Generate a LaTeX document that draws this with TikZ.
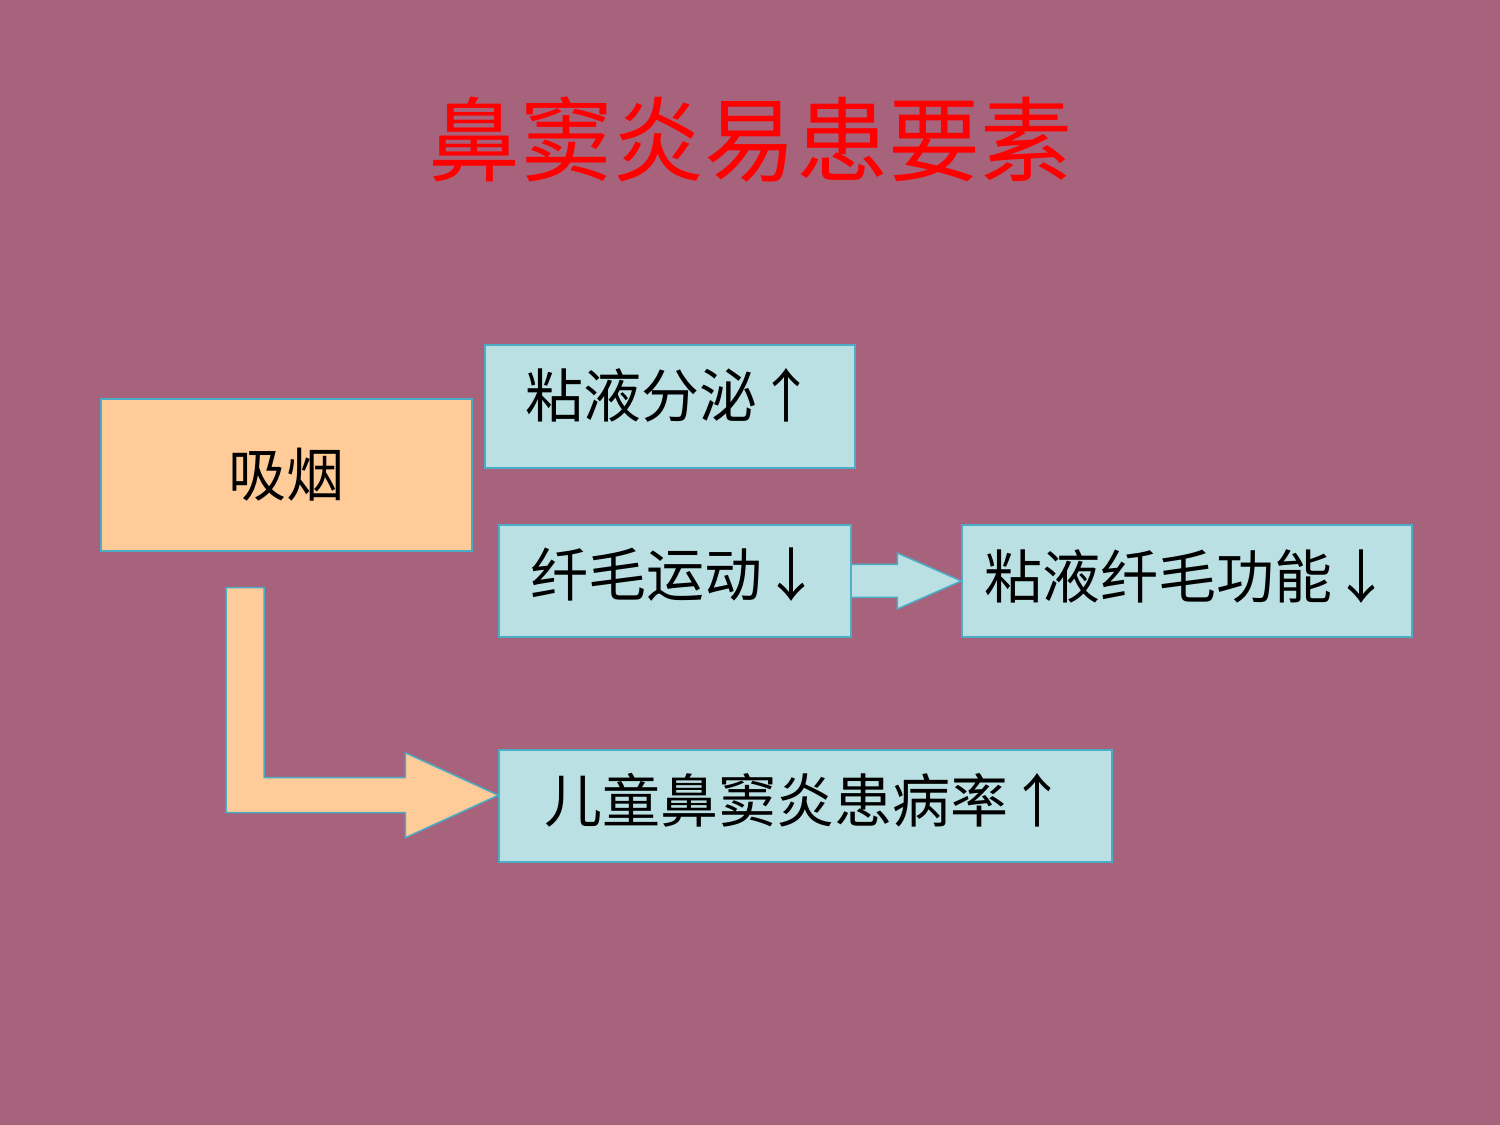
\documentclass[tikz,border=0pt]{standalone}
\usepackage{fontspec}
\setmainfont{Noto Sans CJK SC}
\usetikzlibrary{positioning,calc}
\definecolor{slidebg}{RGB}{168,99,124}
\definecolor{peach}{RGB}{255,204,153}
\definecolor{paleblue}{RGB}{187,224,227}
\definecolor{edgeblue}{RGB}{75,172,198}
\newcommand{\boxtext}[2]{\raisebox{#1}[\height][\depth]{#2}}

\begin{document}
\begin{tikzpicture}[x=0.5pt,y=0.5pt,
  every node/.style = {shape=rectangle, align=center, inner sep=0pt},
  box/.style = {draw=edgeblue, line width=0.75pt, fill=paleblue,
    font=\fontsize{29pt}{31pt}\selectfont},
  block/.style = {draw=edgeblue, line width=0.75pt}
  ]
  \fill[slidebg] (0,0) rectangle (1500,1125);
  \node (title) at (750,985) {\color{red}\fontsize{46pt}{48pt}\selectfont 鼻窦炎易患要素};
  \node[box, fill=peach, minimum width=185.5pt, minimum height=76pt] (smoke) at (286.5,650) {吸烟};
  \node[box, minimum width=185pt, minimum height=61.5pt] (mucus) at (670,718.5)
    {\boxtext{5.5pt}{粘液分泌↑}};
  \node[box, minimum width=176pt, minimum height=56pt] (motion) at (675,544)
    {\boxtext{3pt}{纤毛运动↓}};
  \node[box, minimum width=225pt, minimum height=56pt] (func) at (1187,544)
    {\boxtext{2pt}{粘液纤毛功能↓}};
  \node[box, minimum width=306.5pt, minimum height=56pt] (child) at (805.5,319)
    {\boxtext{3pt}{儿童鼻窦炎患病率↑}};
  % block arrows
  \filldraw[block, fill=paleblue] ($(motion.east)+(0,-16.5)$) -- ($(func.west)+(-64,-16.5)$)
    -- ($(func.west)+(-64,-28)$) -- (func.west) -- ($(func.west)+(-64,28)$)
    -- ($(func.west)+(-64,16.5)$) -- ($(motion.east)+(0,16.5)$);
  \coordinate (tail) at ($(smoke.south)+(-41.5,-36)$);
  \coordinate (bend) at ($(tail)+(0,-207.5)$);
  \coordinate (tip) at (child.west |- bend);
  \filldraw[block, fill=peach] ($(tail)+(-19,0)$) -- ($(tail)+(19,0)$)
    -- ($(bend)+(19,17.5)$) -- ($(tip)+(-93,17.5)$) -- ($(tip)+(-93,42.5)$)
    -- (tip) -- ($(tip)+(-93,-42.5)$) -- ($(tip)+(-93,-17.5)$)
    -- ($(bend)+(-19,-17.5)$) -- cycle;
\end{tikzpicture}
\end{document}
